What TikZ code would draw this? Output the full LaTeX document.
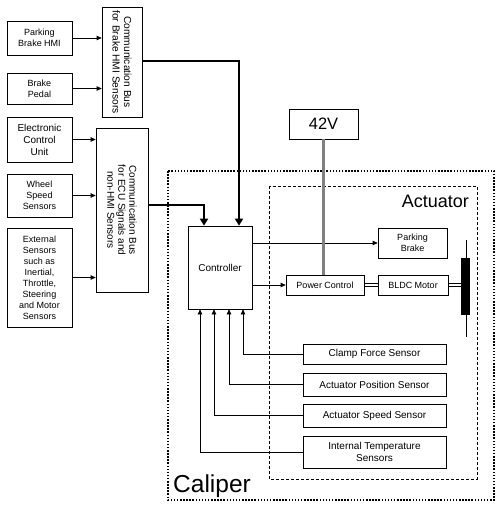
\documentclass[tikz,border=0pt]{standalone}
\usepackage{fontspec}
\setmainfont{Liberation Sans}
\usepackage{tikz}
\usetikzlibrary{arrows.meta}

\begin{document}
\begin{tikzpicture}[x=1pt, y=-1pt,
  blk/.style={draw, line width=0.7pt, inner sep=1pt, align=center, font=\fontsize{9}{11}\selectfont},
  sens/.style={blk, minimum width=143pt, font=\fontsize{10}{12}\selectfont},
  buslbl/.style={rotate=-90, align=center, font=\fontsize{10.2}{11.5}\selectfont},
  arr/.style={line width=0.7pt, -{Triangle[length=5pt, width=4.5pt]}},
  bus/.style={line width=2.4pt, -{Triangle[length=7pt, width=8pt]}},
  shaft/.style={line width=0.6pt}]
\useasboundingbox (0,0) rectangle (500,508);

\draw[line width=1.5pt, dash pattern=on 1.5pt off 1.6pt] (168,171) rectangle (494,500);
\draw[line width=0.6pt, dash pattern=on 3pt off 2pt] (269,186) rectangle (477,479);
\node[anchor=base west, inner sep=0pt, font=\fontsize{24.5}{25}\selectfont] (caliper) at (173,492) {Caliper};
\node[anchor=base east, inner sep=0pt, font=\fontsize{18}{18}\selectfont] (actuator) at (469,207) {Actuator};

\node[blk, minimum width=65pt, minimum height=34pt] (phmi) at (39.5,38) {Parking\\Brake HMI};
\node[blk, minimum width=65pt, minimum height=31pt] (pedal) at (39.5,88.5) {Brake\\Pedal};
\node[blk, minimum width=65pt, minimum height=45pt, font=\fontsize{10}{12}\selectfont] (ecu) at (39.5,139.5) {Electronic\\Control\\Unit};
\node[blk, minimum width=65pt, minimum height=43pt] (wheel) at (39.5,195.5) {Wheel\\Speed\\Sensors};
\node[blk, minimum width=65pt, minimum height=99pt] (ext) at (39.5,277.5) {External\\Sensors\\such as\\Inertial,\\Throttle,\\Steering\\and Motor\\Sensors};

\node[blk, minimum width=40pt, minimum height=110pt] (bus1) at (122,62) {};
\node[buslbl] (bus1lbl) at (bus1) {Communication Bus\\for Brake HMI Sensors};
\node[blk, minimum width=52pt, minimum height=164pt] (bus2) at (122,210) {};
\node[buslbl, font=\fontsize{10}{11}\selectfont] (bus2lbl) at (bus2) {Communication Bus\\for ECU Signals and\\non-HMI Sensors};

\node[blk, minimum width=64pt, minimum height=83pt, font=\fontsize{10}{12}\selectfont] (ctrl) at (220,267.5) {Controller};
\node[blk, minimum width=69pt, minimum height=30pt, font=\fontsize{16.5}{17}\selectfont] (v42) at (323.5,124) {42V};
\node[blk, minimum width=69pt, minimum height=30pt] (pbrake) at (412.5,243) {Parking\\Brake};
\node[blk, minimum width=78pt, minimum height=20pt] (pctl) at (325,285) {Power Control};
\node[blk, minimum width=70pt, minimum height=20pt] (bldc) at (413,285) {BLDC Motor};

\node[sens, minimum height=20pt] (clamp) at (374.5,354) {Clamp Force Sensor};
\node[sens, minimum height=23pt] (apos) at (374.5,384.5) {Actuator Position Sensor};
\node[sens, minimum height=23pt] (aspd) at (374.5,415.5) {Actuator Speed Sensor};
\node[sens, minimum height=32pt] (itemp) at (374.5,452) {Internal Temperature\\Sensors};

\coordinate (disc) at (461,285);
\draw[line width=0.7pt] (466,240) -- (466,337);
\fill (461,258) rectangle (470,315);

\draw[arr] (phmi.east) -- (bus1.west |- phmi.east);
\draw[arr] (pedal.east) -- (bus1.west |- pedal.east);
\draw[arr] (ecu.east) -- (bus2.west |- ecu.east);
\draw[arr] (wheel.east) -- (bus2.west |- wheel.east);
\draw[arr] (ext.east) -- (bus2.west |- ext.east);

\draw[bus] ([yshift=1pt]bus1.east) -| ([xshift=19pt]ctrl.north);
\draw[bus] ([yshift=5pt]bus2.east) -| ([xshift=-16pt]ctrl.north);

\draw[arr] (ctrl.east |- pbrake) -- (pbrake.west);
\draw[arr] (ctrl.east |- pctl) -- (pctl.west);
\draw[line width=2.5pt, gray] (v42.south) -- (v42.south |- pctl.north);
\draw[shaft] ([yshift=1.5pt]pctl.east) -- ([yshift=1.5pt]bldc.west);
\draw[shaft] ([yshift=-1.5pt]pctl.east) -- ([yshift=-1.5pt]bldc.west);
\draw[shaft] ([yshift=1.5pt]bldc.east) -- ([yshift=1.5pt]disc);
\draw[shaft] ([yshift=-1.5pt]bldc.east) -- ([yshift=-1.5pt]disc);

\draw[arr] (clamp.west) -| ([xshift=23pt]ctrl.south);
\draw[arr] (apos.west) -| ([xshift=9pt]ctrl.south);
\draw[arr] (aspd.west) -| ([xshift=-6pt]ctrl.south);
\draw[arr] (itemp.west) -| ([xshift=-20pt]ctrl.south);

\end{tikzpicture}
\end{document}
